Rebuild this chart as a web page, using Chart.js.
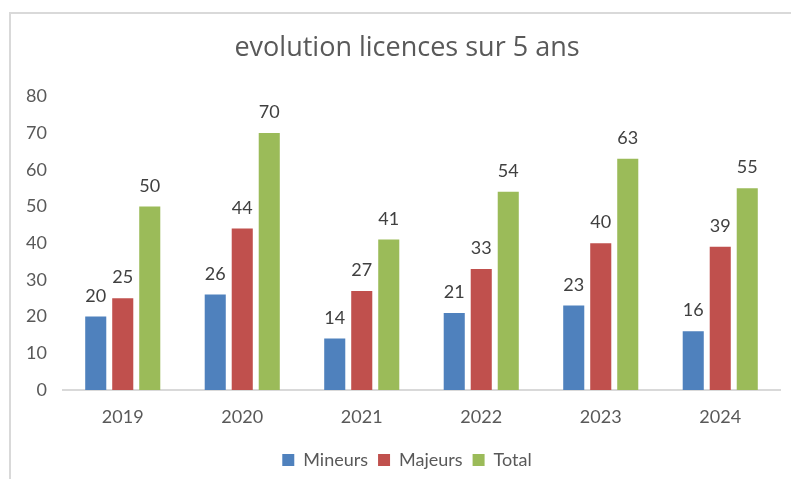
<!DOCTYPE html>
<html>
<head>
<meta charset="utf-8">
<script src="https://cdn.jsdelivr.net/npm/chart.js@4.4.1/dist/chart.umd.min.js"></script>
<style>
  html, body { margin: 0; padding: 0; background: #fff; width: 791px; height: 479px; overflow: hidden; }
  #frame { position: absolute; left: 9px; top: 12px; width: 900px; height: 600px; border: 2px solid #d9d9d9; box-sizing: border-box; }
  #wrap { position: absolute; left: 0; top: 0; width: 814px; height: 479px; }
</style>
</head>
<body>
<div id="frame"></div>
<div id="wrap"><canvas id="c" width="814" height="479"></canvas></div>
<script>
const categories = ["2019", "2020", "2021", "2022", "2023", "2024"];
const mineurs = [20, 26, 14, 21, 23, 16];
const majeurs = [25, 44, 27, 33, 40, 39];
const total = [50, 70, 41, 54, 63, 55];
const yTicks = [0, 10, 20, 30, 40, 50, 60, 70, 80];

const FONT = "Lato, 'Open Sans', sans-serif";
const TITLE_FONT = "'Open Sans', Lato, sans-serif";

const valueLabels = {
  id: 'valueLabels',
  afterDatasetsDraw(chart) {
    const ctx = chart.ctx;
    ctx.save();
    ctx.font = "18px " + FONT;
    ctx.fillStyle = "#404040";
    ctx.textAlign = "center";
    ctx.textBaseline = "alphabetic";
    chart.data.datasets.forEach((ds, i) => {
      const meta = chart.getDatasetMeta(i);
      meta.data.forEach((el, j) => {
        ctx.fillText(String(ds.data[j]), el.x, el.y - 15);
      });
    });
    ctx.restore();
  }
};

new Chart(document.getElementById('c'), {
  type: 'bar',
  data: {
    labels: categories,
    datasets: [
      { label: 'Mineurs', data: mineurs, backgroundColor: '#4F81BD' },
      { label: 'Majeurs', data: majeurs, backgroundColor: '#C0504D' },
      { label: 'Total', data: total, backgroundColor: '#9BBB59' }
    ]
  },
  options: {
    responsive: false,
    animation: false,
    devicePixelRatio: 1,
    layout: { padding: { top: 13, left: 0, right: 0, bottom: 0 } },
    datasets: { bar: { categoryPercentage: 0.678, barPercentage: 0.78 } },
    plugins: {
      title: {
        display: true,
        text: 'evolution licences sur 5 ans',
        color: '#595959',
        font: { family: TITLE_FONT, size: 27, weight: 'normal' },
        padding: { top: 19, bottom: 32 }
      },
      legend: {
        position: 'bottom',
        labels: {
          color: '#595959',
          font: { family: FONT, size: 18 },
          boxWidth: 12,
          boxHeight: 12,
          padding: 10
        }
      },
      tooltip: { enabled: false }
    },
    scales: {
      x: {
        grid: { display: false, drawTicks: false },
        border: { display: true, color: '#d9d9d9', width: 2 },
        ticks: { color: '#595959', font: { family: FONT, size: 18 }, padding: 16 },
        afterFit(scale) { scale.height = 51; }
      },
      y: {
        min: 0, max: 80,
        afterBuildTicks(scale) { scale.ticks = yTicks.map(v => ({ value: v })); },
        grid: { display: false, drawTicks: false },
        border: { display: false },
        ticks: { color: '#595959', font: { family: FONT, size: 18 }, padding: 16 },
        afterFit(scale) { scale.width = 63; }
      },
      yRight: {
        position: 'right',
        display: true,
        grid: { display: false, drawTicks: false },
        border: { display: false },
        ticks: { display: false },
        afterFit(scale) { scale.width = 34; }
      }
    }
  },
  plugins: [valueLabels]
});
</script>
</body>
</html>
